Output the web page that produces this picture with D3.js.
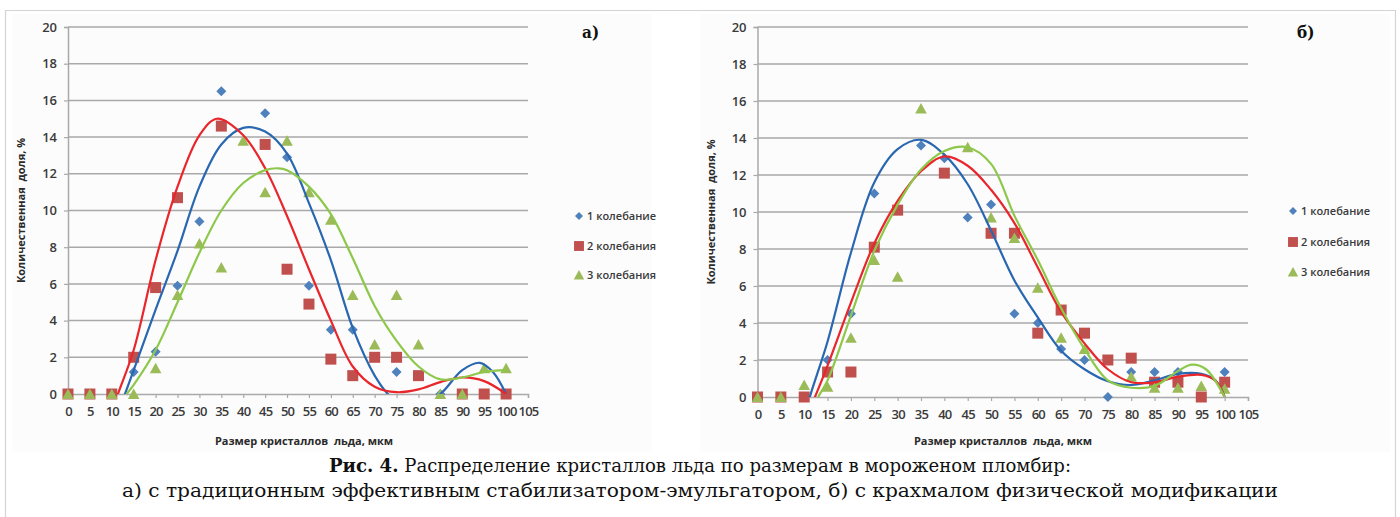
<!DOCTYPE html>
<html><head><meta charset="utf-8">
<script src="https://cdn.jsdelivr.net/npm/d3@7"></script>
<style>body{margin:0;background:#fff}svg{display:block}</style>
</head><body>
<svg id="c" width="1400" height="517"></svg>
<script>
// ---------- data ----------
const categories = [0,5,10,15,20,25,30,35,40,45,50,55,60,65,70,75,80,85,90,95,100];
const xTickLabels = [0,5,10,15,20,25,30,35,40,45,50,55,60,65,70,75,80,85,90,95,100,105];
const yTickLabels = [0,2,4,6,8,10,12,14,16,18,20];
const seriesNames = ["1 колебание","2 колебания","3 колебания"];

// chart а)
const a_s1 = [0,0,0,1.2,2.3,5.9,9.4,16.5,null,15.3,12.9,5.9,3.5,3.5,null,1.2,null,0,0,0,0];
const a_s2 = [0,0,0,2.0,5.8,10.7,null,14.6,null,13.6,6.8,4.9,1.9,1.0,2.0,2.0,1.0,null,0,0,0];
const a_s3 = [0,0,0,0,1.4,5.4,8.2,6.9,13.8,11.0,13.8,11.0,9.5,5.4,2.7,5.4,2.7,0,0,1.4,1.4];
// trend curves а) as [x, y]
const a_t1 = [[11,-1.2],[13,0],[15,1.3],[20,4.6],[25,7.8],[30,11.3],[35,13.6],[40,14.5],[45,14.3],[50,13.1],[55,10.4],[60,7.3],[65,3.6],[70,1.0],[73,0],[76,-0.6],[80,-0.7],[85,0],[90,1.3],[94,1.7],[97,1.2],[100,0]];
const a_t2 = [[10,-1.0],[11.4,0],[15,2.4],[20,7.3],[25,11.3],[30,14.1],[34,15.0],[40,14.1],[45,12.3],[50,9.7],[55,6.8],[60,4.0],[65,1.5],[70,0.4],[75,0.1],[80,0.25],[85,0.65],[90,0.9],[95,0.7],[100,0]];
const a_t3 = [[12,-0.6],[13.4,0],[15,0.5],[20,2.4],[25,5.0],[30,7.7],[35,10.0],[40,11.5],[45,12.2],[48,12.3],[50,12.2],[55,11.3],[60,9.8],[65,7.4],[70,4.8],[75,2.9],[80,1.5],[85,0.8],[90,0.9],[95,1.2],[100,1.3]];

// chart б)
const b_s1 = [0,0,0,2.0,4.5,11.0,null,13.6,12.9,9.7,10.4,4.5,4.0,2.6,2.0,0,1.35,1.35,1.35,null,1.35];
const b_s2 = [0,0,0,1.35,1.35,8.1,10.1,null,12.1,null,8.85,8.85,3.45,4.7,3.45,2.0,2.1,0.8,0.8,0,0.8];
const b_s3 = [0,0,0.65,0.55,3.2,7.4,6.5,15.6,null,13.5,9.7,8.6,5.9,3.2,2.6,null,1.1,0.5,0.5,0.6,0.45];
const b_t1 = [[10,-1.2],[11.2,0],[15,3.0],[20,7.8],[25,11.6],[30,13.4],[35,13.9],[40,13.1],[45,11.5],[50,9.0],[55,6.3],[60,4.3],[65,2.5],[70,1.5],[75,0.85],[80,0.65],[85,0.9],[90,1.25],[95,1.25],[98,0.9],[100,0]];
const b_t2 = [[11,-0.8],[12.3,0],[15,1.7],[20,5.1],[25,8.3],[30,10.6],[35,12.2],[40,13.0],[45,12.5],[50,11.2],[55,9.4],[60,7.0],[65,4.6],[70,2.9],[75,1.5],[80,0.8],[85,0.8],[90,1.1],[95,1.2],[98,0.9],[100,0]];
const b_t3 = [[11.5,-0.8],[13,0],[15,0.9],[20,4.4],[25,7.9],[30,10.4],[35,12.3],[40,13.3],[45,13.5],[50,12.6],[55,9.8],[60,7.4],[65,4.8],[70,2.6],[75,0.9],[80,0.5],[85,0.6],[90,1.4],[93,1.75],[96,1.5],[100,0]];

const yTitle = "Количественная  доля, %";
const xTitle = "Размер кристаллов  льда, мкм";
const captionBold = "Рис. 4.";
const captionRest = " Распределение кристаллов льда по размерам в мороженом пломбир:";
const captionLine2 = "а) с традиционным эффективным стабилизатором-эмульгатором, б) с крахмалом физической модификации";

// ---------- styles ----------
const markerFill = ["#4f81bd","#c0504d","#9bbb59"];
const curveColor = ["#2a67b1","#e8262b","#8dc84a"];
const gridColor = "#a9a9a9";
const textColor = "#3a3a3a";

const svg = d3.select("#c");

// outer frame
svg.append("path").attr("d","M5.5,517 V10.5 H1395.5 V517").attr("fill","none").attr("stroke","#d4d4d4").attr("stroke-width",1.2);

function markerPath(i){
  if(i===0) return "M0,-5 L5,0 L0,5 L-5,0 Z";
  if(i===1) return "M-5.5,-5.5 H5.5 V5.5 H-5.5 Z";
  return "M0,-5.5 L5.8,5 L-5.8,5 Z";
}

function drawChart(cfg){
  const g = svg.append("g");
  g.append("rect").attr("x",cfg.bg[0]).attr("y",cfg.bg[1]).attr("width",cfg.bg[2]).attr("height",cfg.bg[3]).attr("fill","#fcfcfc");
  const x = d3.scaleLinear().domain([0,105]).range(cfg.xr);
  const y = d3.scaleLinear().domain([0,20]).range(cfg.yr);

  // grid
  g.selectAll(".grid").data(yTickLabels.filter(d=>d>0)).join("line")
    .attr("x1",cfg.xr[0]).attr("x2",cfg.xr[1]).attr("y1",d=>y(d)).attr("y2",d=>y(d))
    .attr("stroke",gridColor).attr("stroke-width",1.5);

  // y axis
  const ya = d3.axisLeft(y).tickValues(yTickLabels).tickSize(4).tickPadding(7).tickFormat(d3.format("d"));
  const yg = g.append("g").attr("transform",`translate(${cfg.xr[0]},0)`).call(ya);
  // x axis
  const xa = d3.axisBottom(x).tickValues(xTickLabels).tickSize(4).tickPadding(9).tickFormat(d3.format("d"));
  const xg = g.append("g").attr("transform",`translate(0,${cfg.yr[0]})`).call(xa);
  [yg,xg].forEach(ax=>{
    ax.select(".domain").attr("stroke",gridColor).attr("stroke-width",1.5);
    ax.selectAll(".tick line").attr("stroke",gridColor).attr("stroke-width",1.2);
    ax.selectAll(".tick text").attr("fill",textColor).attr("font-family","Open Sans, sans-serif").attr("font-size",13).attr("font-weight",600);
  });
  xg.selectAll(".tick text").attr("letter-spacing",-0.8);

  // titles
  g.append("text").attr("transform",`translate(${cfg.yTitleX},${(cfg.yr[0]+cfg.yr[1])/2}) rotate(-90)`)
    .attr("text-anchor","middle").attr("dy","0.35em").attr("fill","#2a2a2a").attr("font-family","Open Sans, sans-serif")
    .style("white-space","pre").attr("font-weight",700).attr("font-size",11).text(yTitle);
  g.append("text").attr("x",cfg.xTitleX).attr("y",cfg.xTitleY).attr("text-anchor","middle").attr("dy","0.35em")
    .style("white-space","pre").attr("fill","#2a2a2a").attr("font-family","Open Sans, sans-serif").attr("font-weight",700).attr("font-size",11).text(xTitle);

  // panel label
  g.append("text").attr("x",cfg.label[0]).attr("y",cfg.label[1]).attr("font-family","DejaVu Serif Condensed, DejaVu Serif, serif")
    .attr("font-weight",700).attr("font-size",17).attr("fill","#111").text(cfg.labelText);

  // clip
  const cid = "clip"+cfg.id;
  svg.append("clipPath").attr("id",cid).append("rect")
    .attr("x",cfg.xr[0]).attr("y",cfg.yr[1]-5).attr("width",cfg.xr[1]-cfg.xr[0]).attr("height",cfg.yr[0]-cfg.yr[1]+5);

  // markers
  cfg.series.forEach((s,i)=>{
    g.append("g").selectAll("path").data(categories.map((c,k)=>({c,v:s[k]})).filter(d=>d.v!==null)).join("path")
      .attr("transform",d=>`translate(${x(d.c)},${y(d.v)})`).attr("d",markerPath(i)).attr("fill",markerFill[i]);
  });
  // curves
  const line = d3.line().x(d=>x(d[0])).y(d=>y(d[1])).curve(d3.curveCatmullRom.alpha(0.5));
  cfg.curves.forEach((c,i)=>{
    g.append("path").attr("clip-path",`url(#${cid})`).attr("d",line(c)).attr("fill","none")
      .attr("stroke",curveColor[i]).attr("stroke-width",2.2);
  });

  // legend
  seriesNames.forEach((n,i)=>{
    const ly = cfg.legend[1][i];
    g.append("path").attr("d",markerPath(i))
      .attr("fill",markerFill[i]).attr("transform",`translate(${cfg.legend[0]},${ly}) scale(${i===0?0.8:0.9})`);
    g.append("text").attr("x",cfg.legend[0]+8).attr("y",ly).attr("dy","0.35em").attr("fill",textColor)
      .attr("font-family","Open Sans, sans-serif").attr("font-weight",600).attr("font-size",11).text(n);
  });
}

drawChart({id:"a", xr:[68,528], yr:[394,27], bg:[12,14,640,438], yTitleX:21, xTitleX:304, xTitleY:441,
  label:[582,38], labelText:"а)", series:[a_s1,a_s2,a_s3], curves:[a_t1,a_t2,a_t3],
  legend:[579,[216,246,275]]});
drawChart({id:"b", xr:[757.5,1248], yr:[397,27], bg:[700,14,690,438], yTitleX:711, xTitleX:1003, xTitleY:441,
  label:[1297,38], labelText:"б)", series:[b_s1,b_s2,b_s3], curves:[b_t1,b_t2,b_t3],
  legend:[1293,[211,242,272]]});

// caption
const capFont = "DejaVu Serif Condensed, DejaVu Serif, serif";
const cap = svg.append("text").attr("x",700).attr("y",472).attr("text-anchor","middle")
  .attr("font-family",capFont).attr("font-size",18).attr("fill","#111")
  .attr("textLength",742).attr("lengthAdjust","spacingAndGlyphs");
cap.append("tspan").attr("font-weight",700).text(captionBold);
cap.append("tspan").text(captionRest);
svg.append("text").attr("x",700).attr("y",497).attr("text-anchor","middle")
  .attr("font-family",capFont).attr("font-size",18).attr("fill","#111")
  .attr("textLength",1156).attr("lengthAdjust","spacingAndGlyphs").text(captionLine2);
</script>
</body></html>
